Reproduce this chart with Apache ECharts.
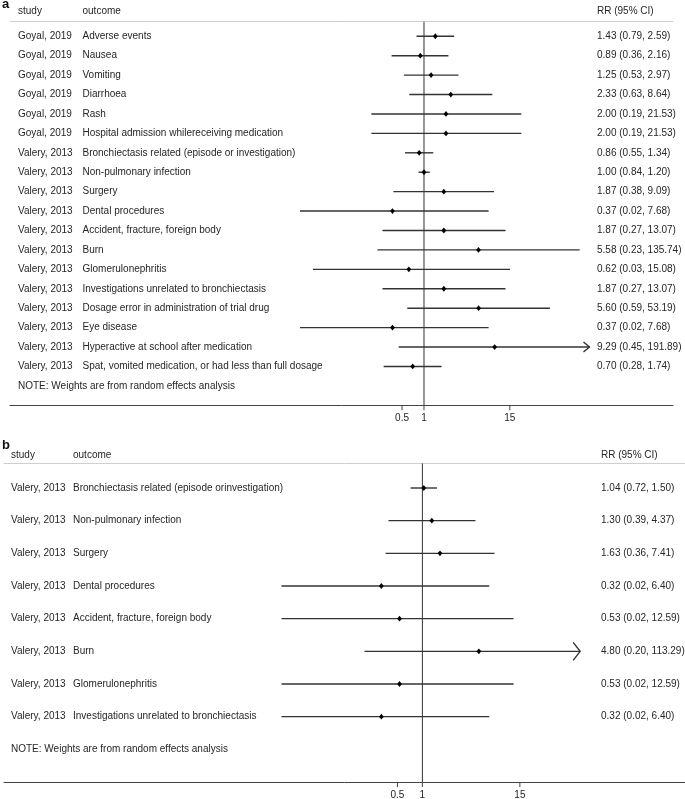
<!DOCTYPE html>
<html><head><meta charset="utf-8">
<script src="https://cdn.jsdelivr.net/npm/echarts@6/dist/echarts.min.js"></script>
<style>html,body{margin:0;padding:0;background:#fff}#c{width:685px;height:799px}</style>
</head><body><div id="c"></div>
<script>
// ---------- Panel a data ----------
const studiesA = ["Goyal, 2019","Goyal, 2019","Goyal, 2019","Goyal, 2019","Goyal, 2019","Goyal, 2019",
  "Valery, 2013","Valery, 2013","Valery, 2013","Valery, 2013","Valery, 2013","Valery, 2013",
  "Valery, 2013","Valery, 2013","Valery, 2013","Valery, 2013","Valery, 2013","Valery, 2013"];
const outcomesA = ["Adverse events","Nausea","Vomiting","Diarrhoea","Rash",
  "Hospital admission whilereceiving medication",
  "Bronchiectasis related (episode or investigation)","Non-pulmonary infection","Surgery",
  "Dental procedures","Accident, fracture, foreign body","Burn","Glomerulonephritis",
  "Investigations unrelated to bronchiectasis","Dosage error in administration of trial drug",
  "Eye disease","Hyperactive at school after medication",
  "Spat, vomited medication, or had less than full dosage"];
const rrA = [1.43,0.89,1.25,2.33,2.00,2.00,0.86,1.00,1.87,0.37,1.87,5.58,0.62,1.87,5.60,0.37,9.29,0.70];
const loA = [0.79,0.36,0.53,0.63,0.19,0.19,0.55,0.84,0.38,0.02,0.27,0.23,0.03,0.27,0.59,0.02,0.45,0.28];
const hiA = [2.59,2.16,2.97,8.64,21.53,21.53,1.34,1.20,9.09,7.68,13.07,135.74,15.08,13.07,53.19,7.68,191.89,1.74];

// ---------- Panel b data ----------
const studiesB = ["Valery, 2013","Valery, 2013","Valery, 2013","Valery, 2013",
  "Valery, 2013","Valery, 2013","Valery, 2013","Valery, 2013"];
const outcomesB = ["Bronchiectasis related (episode orinvestigation)","Non-pulmonary infection","Surgery",
  "Dental procedures","Accident, fracture, foreign body","Burn","Glomerulonephritis",
  "Investigations unrelated to bronchiectasis"];
const rrB = [1.04,1.30,1.63,0.32,0.53,4.80,0.53,0.32];
const loB = [0.72,0.39,0.36,0.02,0.02,0.20,0.02,0.02];
const hiB = [1.50,4.37,7.41,6.40,12.59,113.29,12.59,6.40];

// ---------- axis ticks ----------
const tickValues = [0.5, 1, 15];
const tickLabels = ["0.5", "1", "15"];
const nullValue = 1;
const displayMaxA = 185;   // upper limit of the displayed CI range (arrow beyond)
const displayMaxB = 80;
const noteText = "NOTE: Weights are from random effects analysis";
const headers = ["study", "outcome", "RR (95% CI)"];

// ---------- layout ----------
const FONT = '"Liberation Sans", Arial, Helvetica, sans-serif';
const TXT = '#262626';
const LINE = '#333333';
const A = {grid:{left:10, top:21.7, width:663, height:383.6}, xmin:Math.exp(-13.06), xmax:Math.exp(7.855),
  ymin:-0.75, ymax:19, cols:[18, 82.5, 597], headY:12.5, arrowW:6, arrowH:5};
const B = {grid:{left:4, top:463.5, width:681, height:318.5}, xmin:Math.exp(-11.62), xmax:Math.exp(7.294),
  ymin:-0.75, ymax:9, cols:[11, 73, 601], headY:456, arrowW:7, arrowH:9};

function fmt(v){ return v.toFixed(2); }

function xAxes(P, gi){
  const base = {gridIndex:gi, type:'log', logBase:10, min:P.xmin, max:P.xmax,
    axisTick:{show:false}, axisLabel:{show:false}, splitLine:{show:false}, minorTick:{show:false}};
  return [
    Object.assign({}, base, {position:'bottom', axisLine:{show:true, onZero:false, lineStyle:{color:'#444', width:1}}}),
    Object.assign({}, base, {position:'top', axisLine:{show:true, onZero:false, lineStyle:{color:'#cfcfcf', width:1}}})
  ];
}
function yAxis(P, gi){
  return {gridIndex:gi, type:'value', inverse:true, min:P.ymin, max:P.ymax, show:false};
}

function ciSeries(P, xi, yi, lo, rr, hi, dmax){
  return {
    type:'custom', xAxisIndex:xi, yAxisIndex:yi, silent:true,
    data: rr.map((v,i)=>[i, lo[i], v, hi[i]]),
    encode:{x:[1,2,3], y:0},
    renderItem:function(params, api){
      const row = api.value(0), l = api.value(1), r = api.value(2), h = api.value(3);
      const clipped = h > dmax;
      const p1 = api.coord([l, row]);
      const p2 = api.coord([clipped ? dmax : h, row]);
      const pr = api.coord([r, row]);
      const ch = [{type:'line', shape:{x1:p1[0], y1:p1[1], x2:p2[0], y2:p2[1]},
        style:{stroke:LINE, lineWidth:1.4}}];
      if (clipped) ch.push({type:'polyline', shape:{points:[[p2[0]-P.arrowW, p2[1]-P.arrowH],[p2[0], p2[1]],[p2[0]-P.arrowW, p2[1]+P.arrowH]]},
        style:{stroke:LINE, lineWidth:1.4, fill:null}});
      ch.push({type:'polygon', shape:{points:[[pr[0]-2.4, pr[1]],[pr[0], pr[1]-2.9],[pr[0]+2.4, pr[1]],[pr[0], pr[1]+2.9]]},
        style:{fill:'#000'}});
      return {type:'group', children:ch};
    }
  };
}

function textSeries(P, xi, yi, studies, outcomes, lo, rr, hi){
  const n = rr.length;
  const data = [];
  for (let i=0;i<=n;i++) data.push([nullValue, i]);
  return {
    type:'custom', xAxisIndex:xi, yAxisIndex:yi, silent:true, data:data, encode:{x:0, y:1},
    renderItem:function(params, api){
      const i = params.dataIndex;
      const y = api.coord([nullValue, api.value(1)])[1];
      const st = (t, x)=>({type:'text', style:{text:t, x:x, y:y, fill:TXT, font:'10px '+FONT,
        textAlign:'left', textVerticalAlign:'middle', align:'left', verticalAlign:'middle'}});
      if (i === n) return {type:'group', children:[st(noteText, P.cols[0])]};
      return {type:'group', children:[
        st(studies[i], P.cols[0]),
        st(outcomes[i], P.cols[1]),
        st(fmt(rr[i])+' ('+fmt(lo[i])+', '+fmt(hi[i])+')', P.cols[2])
      ]};
    }
  };
}

function refLineSeries(P, xi, yi){
  return {
    type:'custom', xAxisIndex:xi, yAxisIndex:yi, silent:true, data:[[nullValue]], encode:{x:0},
    renderItem:function(params, api){
      const a = api.coord([api.value(0), P.ymin]);
      const b = api.coord([api.value(0), P.ymax]);
      return {type:'line', shape:{x1:a[0], y1:a[1], x2:b[0], y2:b[1]}, style:{stroke:LINE, lineWidth:1}};
    }
  };
}

function tickSeries(P, xi, yi){
  return {
    type:'custom', xAxisIndex:xi, yAxisIndex:yi, silent:true,
    data: tickValues.map(v=>[v]), encode:{x:0},
    renderItem:function(params, api){
      const p = api.coord([api.value(0), P.ymax]);
      return {type:'group', children:[
        {type:'line', shape:{x1:p[0], y1:p[1], x2:p[0], y2:p[1]+5}, style:{stroke:'#444', lineWidth:1}},
        {type:'text', style:{text:tickLabels[params.dataIndex], x:p[0], y:p[1]+13, fill:TXT, font:'10px '+FONT,
          textAlign:'center', textVerticalAlign:'middle', align:'center', verticalAlign:'middle'}}
      ]};
    }
  };
}

function headerGraphics(P){
  const out = [];
  headers.forEach((h,k)=>{
    out.push({type:'text', left:P.cols[k], top:P.headY-6, style:{text:h, fill:TXT, font:'10px '+FONT}});
  });
  return out;
}

const option = {
  animation:false,
  backgroundColor:'#fff',
  grid:[Object.assign({containLabel:false}, A.grid), Object.assign({containLabel:false}, B.grid)],
  xAxis: xAxes(A,0).concat(xAxes(B,1)),
  yAxis:[yAxis(A,0), yAxis(B,1)],
  series:[
    refLineSeries(A,0,0),
    ciSeries(A,0,0,loA,rrA,hiA,displayMaxA),
    textSeries(A,0,0,studiesA,outcomesA,loA,rrA,hiA),
    tickSeries(A,0,0),
    refLineSeries(B,2,1),
    ciSeries(B,2,1,loB,rrB,hiB,displayMaxB),
    textSeries(B,2,1,studiesB,outcomesB,loB,rrB,hiB),
    tickSeries(B,2,1)
  ],
  graphic: [
    {type:'text', left:2, top:-2, style:{text:'a', fill:'#111', font:'bold 13px '+FONT}},
    {type:'text', left:2, top:439, style:{text:'b', fill:'#111', font:'bold 13px '+FONT}}
  ].concat(headerGraphics(A)).concat(headerGraphics(B))
};

const chart = echarts.init(document.getElementById('c'));
chart.setOption(option);
</script>
</body></html>
